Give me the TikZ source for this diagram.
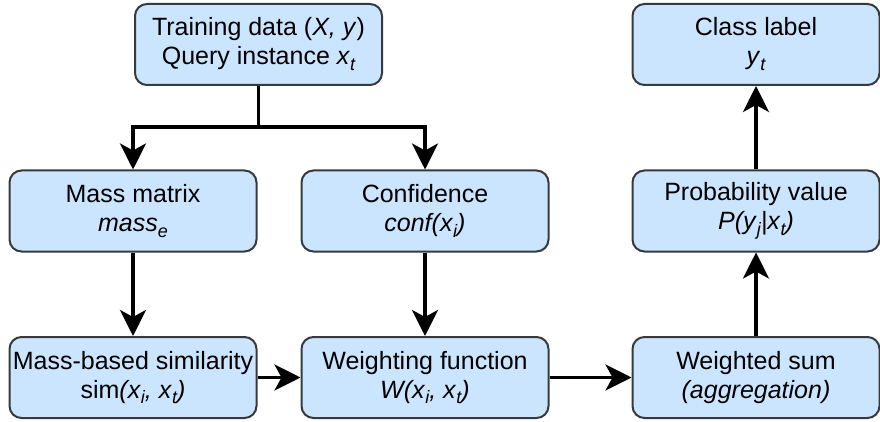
\documentclass[tikz,border=0pt]{standalone}
\usepackage{fontspec}
\setmainfont{Liberation Sans}
\usepackage{xcolor}
\usetikzlibrary{arrows.meta}

\definecolor{boxfill}{HTML}{CCE5FF}
\definecolor{boxline}{HTML}{36393D}
\newcommand{\lowsub}[1]{\raisebox{-0.45ex}{\fontsize{18}{18}\selectfont\itshape #1}}

\begin{document}
\begin{tikzpicture}[x=1pt, y=-1pt,
    block/.style={draw=boxline, fill=boxfill, line width=2pt, rounded corners=12pt,
        minimum width=247pt, minimum height=81pt, inner sep=1pt, align=center,
        font=\fontsize{25}{29}\selectfont},
    flow/.style={line width=3.5pt, -{Stealth[length=26pt,width=26pt,inset=7pt]}}]
    \useasboundingbox (0,0) rectangle (880,422);

    % Top row
    \node[block] (train) at (258.5,44.5) {Training data (\textit{X, y})\\Query instance \textit{x}\lowsub{t}};
    \node[block] (label) at (756,44.5) {Class label\\\textit{y}\lowsub{t}};

    % Middle row
    \node[block] (mass) at (133,211) {Mass matrix\\\textit{mass}\lowsub{e}};
    \node[block] (conf) at (425,211) {Confidence\\\textit{conf(x}\lowsub{i}\textit{)}};
    \node[block] (prob) at (756,211) {Probability value\\\textit{P(y}\lowsub{j}\textit{|x}\lowsub{t}\textit{)}};

    % Bottom row
    \node[block] (sim) at (133,377.5) {Mass-based similarity\\sim\textit{(x}\lowsub{i}\textit{, x}\lowsub{t}\textit{)}};
    \node[block] (wfun) at (425,377.5) {Weighting function\\\textit{W(x}\lowsub{i}\textit{, x}\lowsub{t}\textit{)}};
    \node[block] (wsum) at (756,377.5) {Weighted sum\\\textit{(aggregation)}};

    % Split below the input
    \coordinate (split) at (258.5,127);
    \draw[line width=3.5pt] (train) -- (split);
    \draw[flow] (split) -| (mass);
    \draw[flow] (split) -| (conf);

    % Flow
    \draw[flow] (mass) -- (sim);
    \draw[flow] (conf) -- (wfun);
    \draw[flow] (sim) -- (wfun);
    \draw[flow] (wfun) -- (wsum);
    \draw[flow] (wsum) -- (prob);
    \draw[flow] (prob) -- (label);
\end{tikzpicture}
\end{document}
